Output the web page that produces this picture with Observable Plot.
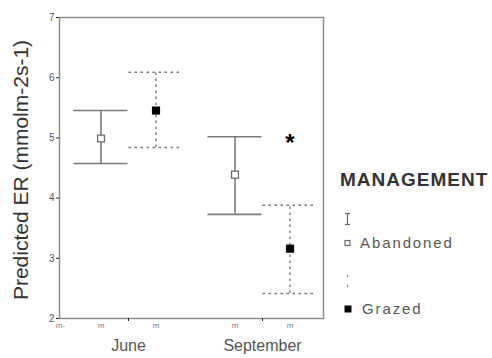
<!DOCTYPE html>
<html>
<head>
<meta charset="utf-8">
<script src="https://cdn.jsdelivr.net/npm/d3@7"></script>
<script src="https://cdn.jsdelivr.net/npm/@observablehq/plot@0.6"></script>
<style>
  html, body { margin: 0; padding: 0; background: #fff; }
  #wrap { position: relative; width: 492px; height: 358px; font-family: Arial, "Liberation Sans", sans-serif; }
  #legend { position: absolute; left: 0; top: 0; width: 492px; height: 358px; pointer-events: none; color: #444; }
  #legend .t { position: absolute; white-space: nowrap; }
</style>
</head>
<body>
<div id="wrap"></div>
<script>
// ---- data ----
const months = ["June", "June", "September", "September"];
const management = ["Abandoned", "Grazed", "Abandoned", "Grazed"];
const meanER = [4.99, 5.455, 4.39, 3.16];
const lowerER = [4.575, 4.84, 3.73, 2.415];
const upperER = [5.455, 6.09, 5.02, 3.88];
const monthLabels = ["June", "September"];
const groupLabels = ["Abandoned", "Grazed"];
const yTicks = [2, 3, 4, 5, 6, 7];
const yTitle = "Predicted ER (mmolm-2s-1)";
const legendTitle = "MANAGEMENT";
const significance = [{month: "September", management: "Grazed", label: "*", y: 4.96}];

// ---- layout helpers (not data) ----
const groupStart = 69, groupGap = 134, pairGap = 55, capHalf = 27;
const xOf = (m, g) => groupStart + monthLabels.indexOf(m) * groupGap + (groupLabels.indexOf(g) - 0.5) * pairGap;

const rows = months.map((m, i) => ({
  month: m, management: management[i], mean: meanER[i], lo: lowerER[i], hi: upperER[i],
  x: xOf(m, management[i])
}));
const monthRows = monthLabels.map(m => ({month: m, x: groupStart + monthLabels.indexOf(m) * groupGap}));
const ab = rows.filter(d => d.management === "Abandoned");
const gr = rows.filter(d => d.management === "Grazed");

const solid = {stroke: "#7a7a7a", strokeWidth: 1.6};
const dotted = {stroke: "#777", strokeWidth: 1.4, strokeDasharray: "2.5,3.5"};

const chart = Plot.plot({
  width: 492,
  height: 358,
  marginLeft: 59,
  marginRight: 169,
  marginTop: 17,
  marginBottom: 40,
  style: {fontFamily: "Arial, 'Liberation Sans', sans-serif", background: "transparent"},
  x: {domain: [0, 264], axis: null},
  y: {domain: [2, 7], axis: null},
  marks: [
    Plot.frame({stroke: "#8a8a8a", strokeWidth: 1.4}),
    Plot.axisY({ticks: yTicks, tickFormat: d3.format("d"), tickSize: 3, tickPadding: 2, fontSize: 10, color: "#555", stroke: "#222", label: null}),
    Plot.axisX(monthRows.map(d => d.x), {tickSize: 3, tickFormat: () => "", stroke: "#222", label: null}),
    // abandoned: solid error bars
    Plot.ruleX(ab, {x: "x", y1: "lo", y2: "hi", ...solid}),
    Plot.ruleY(ab, {y: "lo", x1: d => d.x - capHalf, x2: d => d.x + capHalf, ...solid}),
    Plot.ruleY(ab, {y: "hi", x1: d => d.x - capHalf, x2: d => d.x + capHalf, ...solid}),
    // grazed: dotted error bars
    Plot.ruleX(gr, {x: "x", y1: "lo", y2: "hi", ...dotted}),
    Plot.ruleY(gr, {y: "lo", x1: d => d.x - capHalf, x2: d => d.x + capHalf, ...dotted}),
    Plot.ruleY(gr, {y: "hi", x1: d => d.x - capHalf, x2: d => d.x + capHalf, ...dotted}),
    // means
    Plot.dot(ab, {x: "x", y: "mean", symbol: "square", r: 3.9, fill: "white", stroke: "#666", strokeWidth: 1.2}),
    Plot.dot(gr, {x: "x", y: "mean", symbol: "square", r: 4.6, fill: "#000", stroke: "none"}),
    // significance asterisk
    Plot.text(significance, {x: d => xOf(d.month, d.management), y: "y", text: "label", fontSize: 24, fontWeight: "bold", fill: "#000", dy: 3}),
    // small bar labels under the axis
    Plot.text(rows, {x: "x", frameAnchor: "bottom", dy: 9, text: () => "m", fontSize: 8, fill: "#777"}),
    Plot.text(["m-"], {x: () => 0, frameAnchor: "bottom", dy: 9, dx: 1, text: d => d, fontSize: 8, fill: "#777"}),
    // month labels
    Plot.text(monthRows, {x: "x", frameAnchor: "bottom", dy: 32, text: "month", fontSize: 16, fill: "#555"}),
    // y title
    Plot.text([yTitle], {frameAnchor: "left", textAnchor: "middle", rotate: -90, dx: -38, dy: 2, text: d => d, fontSize: 21, fill: "#333", letterSpacing: 1.1})
  ]
});

const wrap = document.getElementById("wrap");
wrap.appendChild(chart);

// legend (HTML overlay to the right of the plot)
const lg = document.createElement("div");
lg.id = "legend";
lg.innerHTML = `
  <div class="t" style="left:340px;top:169px;font-size:19px;font-weight:bold;letter-spacing:1px;color:#333;">${legendTitle}</div>
  <svg style="position:absolute;left:0;top:0" width="492" height="358">
    <g stroke="#666" stroke-width="1.2" fill="none">
      <line x1="347.5" y1="213" x2="347.5" y2="225"/>
      <line x1="345" y1="213.5" x2="350" y2="213.5"/>
      <line x1="345" y1="224.5" x2="350" y2="224.5"/>
      <rect x="345" y="240.5" width="5" height="5" fill="white"/>
      <line x1="347.5" y1="275" x2="347.5" y2="290" stroke="#888" stroke-dasharray="2,8"/>
    </g>
    <rect x="344.5" y="305.5" width="7" height="7" fill="#000"/>
  </svg>
  <div class="t" style="left:360px;top:234px;font-size:15px;letter-spacing:1.9px;color:#555;">${groupLabels[0]}</div>
  <div class="t" style="left:362px;top:300px;font-size:15px;letter-spacing:1.9px;color:#555;">${groupLabels[1]}</div>
`;
wrap.appendChild(lg);
</script>
</body>
</html>
